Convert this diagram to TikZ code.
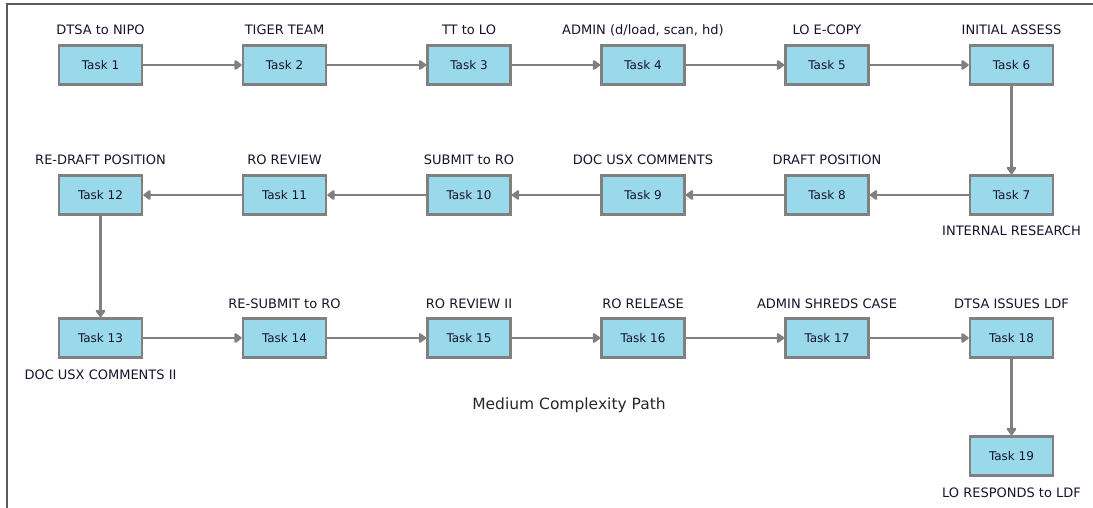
\documentclass[tikz,border=0pt]{standalone}
\usepackage{fontspec}
\setmainfont{DejaVu Sans}
\usetikzlibrary{arrows.meta}
\definecolor{boxfill}{RGB}{154,217,234}
\definecolor{edgegray}{RGB}{128,128,128}
\definecolor{framegray}{RGB}{90,90,90}
\definecolor{labtext}{RGB}{20,20,45}
\tikzset{
  task/.style={draw=edgegray, line width=2.6pt, fill=boxfill, minimum width=83pt, minimum height=39pt, inner sep=0pt, text=labtext, font=\fontsize{12}{14}\selectfont},
  lab/.style={inner sep=0pt, text=labtext, font=\fontsize{13}{15}\selectfont, text height=9.5pt, text depth=2pt},
  flow/.style={draw=edgegray, line width=2.4pt, -{Triangle[width=11pt,length=8pt,round]}},
}
\begin{document}
\begin{tikzpicture}[x=1pt,y=-1pt]
\useasboundingbox (0,0) rectangle (1093,508);
\draw[framegray, line width=1.5pt] (7,508) -- (7,4) -- (1093,4);
% row 1
\node[task, label={[lab,label distance=7pt]above:DTSA to NIPO}] (t1) at (100.5,65) {Task 1};
\node[task, label={[lab,label distance=7pt]above:TIGER TEAM}] (t2) at (284.5,65) {Task 2};
\node[task, label={[lab,label distance=7pt]above:TT to LO}] (t3) at (469,65) {Task 3};
\node[task, label={[lab,label distance=7pt]above:ADMIN (d/load, scan, hd)}] (t4) at (643,65) {Task 4};
\node[task, label={[lab,label distance=7pt]above:LO E-COPY}] (t5) at (827,65) {Task 5};
\node[task, label={[lab,label distance=7pt]above:INITIAL ASSESS}] (t6) at (1011.5,65) {Task 6};
% row 2
\node[task, label={[lab,label distance=10.5pt]below:INTERNAL RESEARCH}] (t7) at (1011.5,195) {Task 7};
\node[task, label={[lab,label distance=7pt]above:DRAFT POSITION}] (t8) at (827,195) {Task 8};
\node[task, label={[lab,label distance=7pt]above:DOC USX COMMENTS}] (t9) at (643,195) {Task 9};
\node[task, label={[lab,label distance=7pt]above:SUBMIT to RO}] (t10) at (469,195) {Task 10};
\node[task, label={[lab,label distance=7pt]above:RO REVIEW}] (t11) at (284.5,195) {Task 11};
\node[task, label={[lab,label distance=7pt]above:RE-DRAFT POSITION}] (t12) at (100.5,195) {Task 12};
% row 3
\node[task, label={[lab,label distance=10.5pt]below:DOC USX COMMENTS II}] (t13) at (100.5,338) {Task 13};
\node[task, label={[lab,label distance=7pt]above:RE-SUBMIT to RO}] (t14) at (284.5,338) {Task 14};
\node[task, label={[lab,label distance=7pt]above:RO REVIEW II}] (t15) at (469,338) {Task 15};
\node[task, label={[lab,label distance=7pt]above:RO RELEASE}] (t16) at (643,338) {Task 16};
\node[task, label={[lab,label distance=7pt]above:ADMIN SHREDS CASE}] (t17) at (827,338) {Task 17};
\node[task, label={[lab,label distance=7pt]above:DTSA ISSUES LDF}] (t18) at (1011.5,338) {Task 18};
% row 4
\node[task, label={[lab,label distance=10.5pt]below:LO RESPONDS to LDF}] (t19) at (1011.5,456) {Task 19};
% title
\node[inner sep=0pt, font=\fontsize{15.5}{18}\selectfont, text=black!85] (title) at (569,405) {Medium Complexity Path};
% connectors
\foreach \a/\b in {t1/t2,t2/t3,t3/t4,t4/t5,t5/t6,t6/t7,t7/t8,t8/t9,t9/t10,t10/t11,t11/t12,t12/t13,t13/t14,t14/t15,t15/t16,t16/t17,t17/t18,t18/t19}
  \draw[flow] (\a) -- (\b);
\end{tikzpicture}
\end{document}
